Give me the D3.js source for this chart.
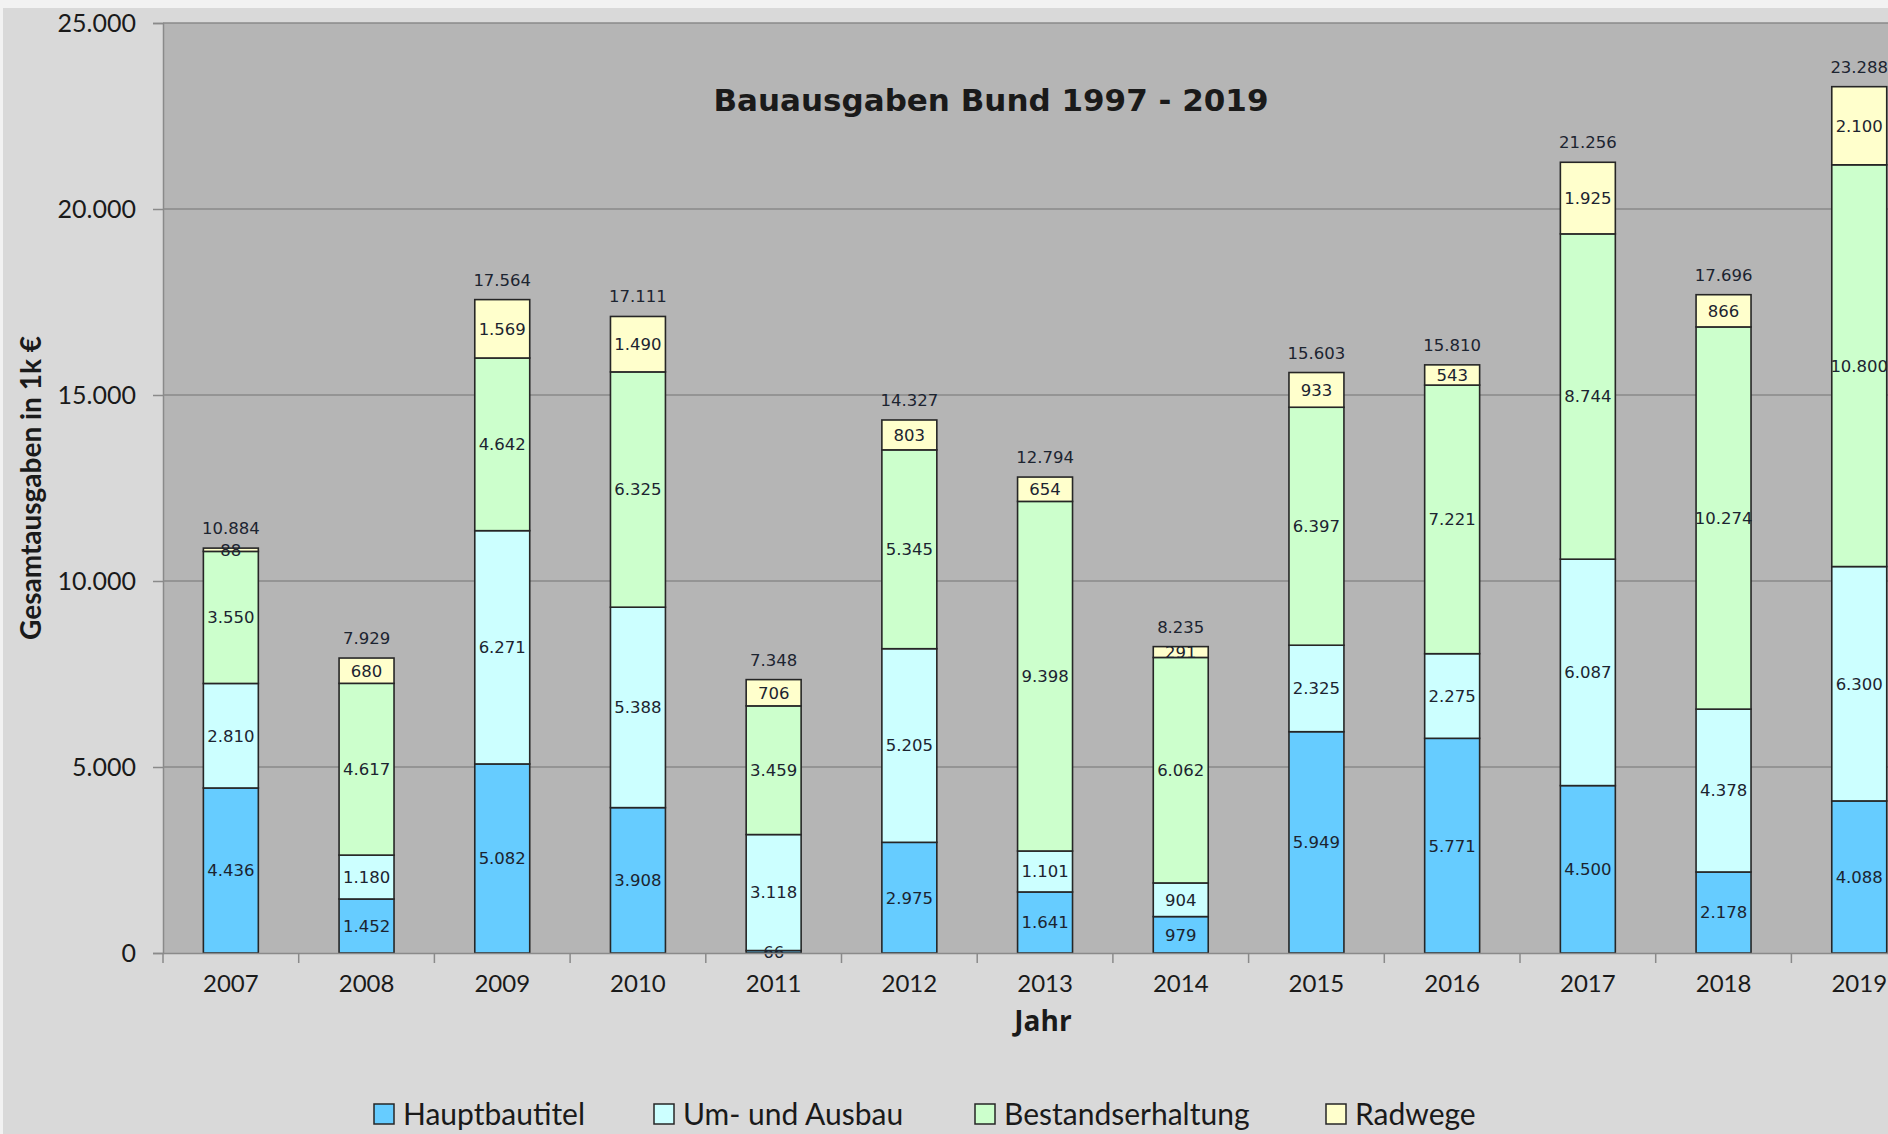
<!DOCTYPE html>
<html>
<head>
<meta charset="utf-8">
<script src="https://cdn.jsdelivr.net/npm/d3@7"></script>
<style>
  body { margin: 0; background: #f2f2f2; }
  svg { display: block; }
</style>
</head>
<body>
<div id="chart"></div>
<script>
let years = ["2007","2008","2009","2010","2011","2012","2013","2014","2015","2016","2017","2018","2019"]
let hauptbautitel = [4436, 1452, 5082, 3908, 66, 2975, 1641, 979, 5949, 5771, 4500, 2178, 4088]
let umAusbau = [2810, 1180, 6271, 5388, 3118, 5205, 1101, 904, 2325, 2275, 6087, 4378, 6300]
let bestand = [3550, 4617, 4642, 6325, 3459, 5345, 9398, 6062, 6397, 7221, 8744, 10274, 10800]
let radwege = [88, 680, 1569, 1490, 706, 803, 654, 291, 933, 543, 1925, 866, 2100]
let totals = [10884, 7929, 17564, 17111, 7348, 14327, 12794, 8235, 15603, 15810, 21256, 17696, 23288]
let seriesNames = ["Hauptbautitel", "Um- und Ausbau", "Bestandserhaltung", "Radwege"]
let yTicks = [0, 5000, 10000, 15000, 20000, 25000]

let colors = ["#66ccff", "#ccffff", "#ccffcc", "#ffffcc"]

let de = d3.formatLocale({decimal: ",", thousands: ".", grouping: [3], currency: ["", " €"]})
let fmt = de.format(",d")

let width = 1888
let height = 1134
let margin = {top: 23, left: 163, bottom: 181}
let step = 135.7

let table = years.map((y, i) => ({
  year: y,
  "Hauptbautitel": hauptbautitel[i],
  "Um- und Ausbau": umAusbau[i],
  "Bestandserhaltung": bestand[i],
  "Radwege": radwege[i],
  total: totals[i]
}))

let stacked = d3.stack().keys(seriesNames)(table)

let svg = d3.select("#chart")
  .append("svg")
  .attr("width", width)
  .attr("height", height)

// outer frame
svg.append("rect")
  .attr("x", 3).attr("y", 8)
  .attr("width", width - 3).attr("height", height - 8)
  .attr("fill", "#d9d9d9")

let x = d3.scaleBand()
  .domain(years)
  .range([margin.left, margin.left + step * years.length])
  .paddingInner(0.595)
  .paddingOuter(0.2975)

let y = d3.scaleLinear()
  .domain([0, 25000])
  .range([height - margin.bottom, margin.top])

// plot area
svg.append("rect")
  .attr("x", margin.left)
  .attr("y", y(25000))
  .attr("width", step * years.length)
  .attr("height", y(0) - y(25000))
  .attr("fill", "#b5b5b5")

// grid
svg.append("g")
  .selectAll("line")
  .data(yTicks.slice(1))
  .enter().append("line")
    .attr("x1", margin.left)
    .attr("x2", margin.left + step * years.length)
    .attr("y1", d => y(d))
    .attr("y2", d => y(d))
    .attr("stroke", "#8a8a8a")
    .attr("stroke-width", 1.5)

let yAxis = g => g
  .attr("transform", `translate(${margin.left},0)`)
  .call(d3.axisLeft(y).tickValues(yTicks).tickFormat(fmt).tickSize(10).tickPadding(17))
  .call(g => g.selectAll("line, path").attr("stroke", "#8a8a8a").attr("stroke-width", 1.5))
  .call(g => g.selectAll("text")
    .attr("fill", "#1a1a1a")
    .style("font", "25px Lato, sans-serif"))

svg.append("g").call(yAxis)

// bars
svg.append("g")
  .selectAll("g")
  .data(stacked)
  .enter().append("g")
    .attr("fill", (d, i) => colors[i])
  .selectAll("rect")
  .data(d => d)
  .enter().append("rect")
    .attr("x", d => x(d.data.year))
    .attr("y", d => y(d[1]))
    .attr("width", x.bandwidth())
    .attr("height", d => y(d[0]) - y(d[1]))
    .attr("stroke", "#262626")
    .attr("stroke-width", 1.6)

// segment labels
svg.append("g")
  .attr("text-anchor", "middle")
  .style("font", "16.5px 'DejaVu Sans', sans-serif")
  .attr("fill", "#1c2430")
  .selectAll("g")
  .data(stacked)
  .enter().append("g")
  .selectAll("text")
  .data(d => d)
  .enter().append("text")
    .attr("x", d => x(d.data.year) + x.bandwidth() / 2)
    .attr("y", d => (y(d[0]) + y(d[1])) / 2)
    .attr("dy", "0.36em")
    .text(d => fmt(d[1] - d[0]))

// totals
svg.append("g")
  .attr("text-anchor", "middle")
  .style("font", "16.5px 'DejaVu Sans', sans-serif")
  .attr("fill", "#1c2430")
  .selectAll("text")
  .data(table)
  .enter().append("text")
    .attr("x", d => x(d.year) + x.bandwidth() / 2)
    .attr("y", (d, i) => y(d3.sum(stacked, s => s[i][1] - s[i][0])) - 14)
    .text(d => fmt(d.total))

let xAxis = g => g
  .attr("transform", `translate(0,${y(0)})`)
  .call(d3.axisBottom(x).tickSize(0).tickPadding(22))
  .call(g => g.select(".domain").attr("stroke", "#8a8a8a").attr("stroke-width", 1.5))
  .call(g => g.selectAll("text")
    .attr("fill", "#1a1a1a")
    .style("font", "24px Lato, sans-serif"))

svg.append("g").call(xAxis)

// tick marks between categories
svg.append("g")
  .selectAll("line")
  .data(d3.range(years.length + 1))
  .enter().append("line")
    .attr("x1", i => margin.left + i * step)
    .attr("x2", i => margin.left + i * step)
    .attr("y1", y(0))
    .attr("y2", y(0) + 10)
    .attr("stroke", "#8a8a8a")
    .attr("stroke-width", 1.5)

// title
svg.append("text")
  .attr("x", 991)
  .attr("y", 111)
  .attr("text-anchor", "middle")
  .attr("fill", "#1a1a1a")
  .style("font", "bold 31px 'DejaVu Sans', sans-serif")
  .text("Bauausgaben Bund 1997 - 2019")

svg.append("text")
  .attr("x", 1043)
  .attr("y", 1031)
  .attr("text-anchor", "middle")
  .attr("fill", "#1a1a1a")
  .style("font", "bold 28px 'Open Sans', sans-serif")
  .text("Jahr")

svg.append("text")
  .attr("transform", "translate(41,488) rotate(-90)")
  .attr("text-anchor", "middle")
  .attr("fill", "#1a1a1a")
  .style("font", "bold 28px Lato, sans-serif")
  .text("Gesamtausgaben in 1k €")

// legend
let legendX = [374, 654, 975, 1326]
let legend = svg.append("g")
  .selectAll("g")
  .data(seriesNames)
  .enter().append("g")
    .attr("transform", (d, i) => `translate(${legendX[i]},1104)`)

legend.append("rect")
  .attr("width", 20).attr("height", 20)
  .attr("fill", (d, i) => colors[i])
  .attr("stroke", "#262626")
  .attr("stroke-width", 1.5)

legend.append("text")
  .attr("x", 29)
  .attr("y", 21)
  .attr("fill", "#1a1a1a")
  .style("font", "30px Lato, sans-serif")
  .text(d => d)
</script>
</body>
</html>
